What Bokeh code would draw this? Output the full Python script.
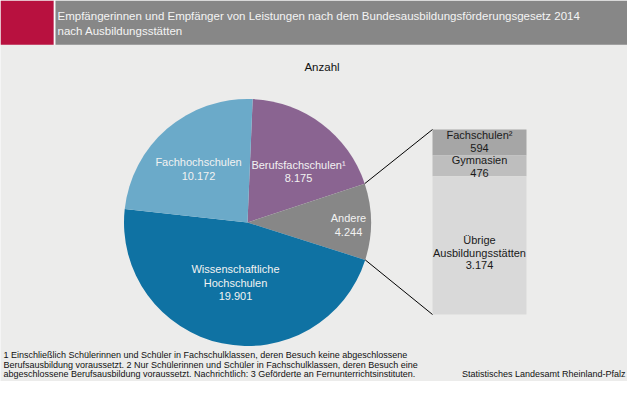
import math
from bokeh.plotting import figure
from bokeh.models import Range1d, ColumnDataSource
from bokeh.core.properties import value
from bokeh.embed import file_html
from bokeh.resources import INLINE

# ---- data ----
pie_labels = ["Berufsfachschulen¹", "Andere", "Wissenschaftliche Hochschulen", "Fachhochschulen"]
pie_values = [8175, 4244, 19901, 10172]
pie_colors = ["#8A6491", "#878787", "#0F72A3", "#6BAAC9"]

bar_labels = ["Fachschulen²", "Gymnasien", "Übrige Ausbildungsstätten"]
bar_values = [594, 476, 3174]
bar_colors = ["#A6A6A6", "#BEBEBE", "#D9D9D9"]

title_lines = ["Empfängerinnen und Empfänger von Leistungen nach dem Bundesausbildungsförderungsgesetz 2014",
               "nach Ausbildungsstätten"]
footnotes = ["1 Einschließlich Schülerinnen und Schüler in Fachschulklassen, deren Besuch keine abgeschlossene",
             "Berufsausbildung voraussetzt. 2 Nur Schülerinnen und Schüler in Fachschulklassen, deren Besuch eine",
             "abgeschlossene Berufsausbildung voraussetzt. Nachrichtlich: 3 Geförderte an Fernunterrichtsinstituten."]
source_text = "Statistisches Landesamt Rheinland-Pfalz"

BG = "#ECECEB"
FONT = value("Liberation Sans")
W, H = 627, 381


def Y(r):
    return H - r


p = figure(width=W, height=H, x_range=Range1d(0, W), y_range=Range1d(0, H),
           output_backend="svg", toolbar_location=None, min_border=0)
p.axis.visible = False
p.grid.visible = False
p.outline_line_color = None
p.background_fill_color = BG
p.border_fill_color = BG

# ---- title bar ----
p.quad(left=[0], right=[53.3], top=[Y(0)], bottom=[Y(44.3)], color="#B8113F", line_color=None)
p.quad(left=[53.3], right=[55], top=[Y(0)], bottom=[Y(44.3)], color="#FAFAFA", line_color=None)
p.quad(left=[55], right=[W], top=[Y(0)], bottom=[Y(44.3)], color="#878787", line_color=None)
p.text(x=[57, 57], y=[Y(15.5), Y(30.5)], text=title_lines, text_font=FONT, text_font_size="11.5px",
       text_color="#F4F4F4", text_align="left", text_baseline="middle")

p.text(x=[321.5], y=[Y(66)], text=["Anzahl"], text_font=FONT, text_font_size="11.5px",
       text_color="#111111", text_align="center", text_baseline="middle")

# ---- pie ----
cx, cy, r = 247, 222, 123.5
total = sum(pie_values)
theta = 87.6
starts, ends = [], []
for v in pie_values:
    a1 = theta
    a0 = theta - v / total * 360.0
    starts.append(math.radians(a0))
    ends.append(math.radians(a1))
    theta = a0
src = ColumnDataSource(dict(start=starts, end=ends, color=pie_colors))
p.wedge(x=cx, y=Y(cy), radius=r, start_angle="start", end_angle="end", direction="anticlock",
        fill_color="color", line_color=None, source=src)

pie_text = ["Berufsfachschulen¹", "8.175", "Andere", "4.244",
            "Wissenschaftliche", "Hochschulen", "19.901", "Fachhochschulen", "10.172"]
pie_tx = [298, 298, 348, 348, 235, 235, 235, 198, 198]
pie_ty = [164, 177.5, 217.5, 231, 268.5, 282, 295, 161.5, 175]
p.text(x=pie_tx, y=[Y(v) for v in pie_ty], text=pie_text, text_font=FONT, text_font_size="11px",
       text_color="#F2F2F2", text_align="center", text_baseline="middle")

# ---- stacked bar for "Andere" ----
bx0, bx1, btop, bheight = 432, 526, 129, 185
bar_total = sum(bar_values)
tops, bottoms = [], []
cur = btop
for v in bar_values:
    h = v / bar_total * bheight
    tops.append(Y(cur))
    bottoms.append(Y(cur + h))
    cur += h
p.quad(left=bx0, right=bx1, top=tops, bottom=bottoms, fill_color=bar_colors, line_color=None)

bar_text = ["Fachschulen²", "594", "Gymnasien", "476", "Übrige", "Ausbildungsstätten", "3.174"]
bar_ty = [134.5, 147, 159, 172, 239.5, 252, 264]
p.text(x=[479] * len(bar_text), y=[Y(v) for v in bar_ty], text=bar_text, text_font=FONT,
       text_font_size="11px", text_color="#1A1A1A", text_align="center", text_baseline="middle")

# connector lines from the "Andere" slice edges to the bar
a_top = ends[1]
a_bot = starts[1]
p.segment(x0=[cx + r * math.cos(a_top), cx + r * math.cos(a_bot)],
          y0=[Y(cy - r * math.sin(a_top)), Y(cy - r * math.sin(a_bot))],
          x1=[bx0, bx0], y1=[Y(btop), Y(btop + bheight)], line_color="#000000", line_width=1)

# ---- footnotes and source ----
p.text(x=[3, 3, 3], y=[Y(354.5), Y(364.2), Y(373.9)], text=footnotes, text_font=FONT,
       text_font_size="9px", text_color="#111111", text_align="left", text_baseline="middle")
p.text(x=[625], y=[Y(373)], text=[source_text], text_font=FONT, text_font_size="9px",
       text_color="#111111", text_align="right", text_baseline="middle")

open("out.html", "w").write(file_html(p, INLINE))
